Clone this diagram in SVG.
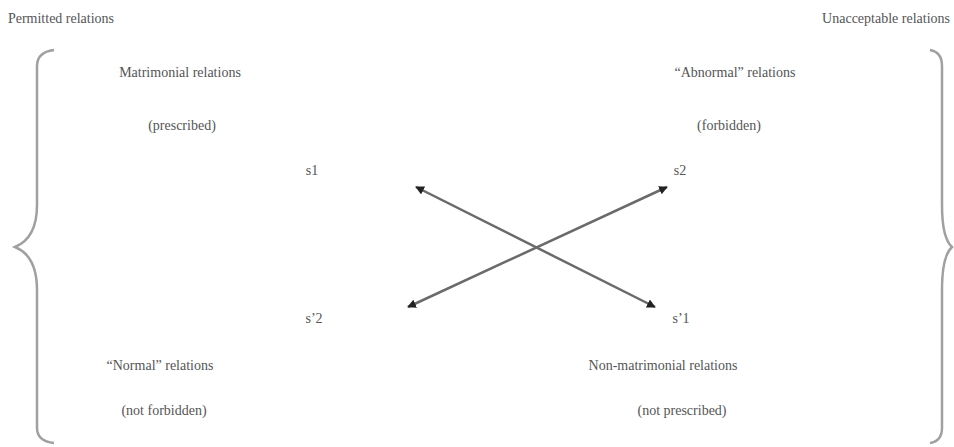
<svg xmlns="http://www.w3.org/2000/svg" width="954" height="447" viewBox="0 0 954 447">
  <style>
    .t { font-family: "Liberation Serif", "Times New Roman", serif; font-size: 14px; fill: #555555; text-anchor: middle; }
    .brace { fill: none; stroke: #a0a0a0; stroke-width: 2.5; }
    .conn { fill: none; stroke: #6a6a6a; stroke-width: 2.5; }
  </style>
  <defs>
    <marker id="ah" viewBox="0 0 10 10" refX="9" refY="5" markerWidth="3.5" markerHeight="3.5" orient="auto-start-reverse" markerUnits="strokeWidth">
      <path d="M0,0 L10,5 L0,10 z" fill="#222"/>
    </marker>
  </defs>
  <rect width="954" height="447" fill="#ffffff"/>

  <g id="brace-left">
    <path class="brace" d="M54 50 Q37 52 37 66 L37 205 Q37 238 15 247 Q37 256 37 290 L37 428 Q37 441 54 443"/>
    <text class="t" x="61" y="23">Permitted relations</text>
  </g>
  <g id="brace-right">
    <path class="brace" d="M930 50 Q942 52 942 66 L942 205 Q942 238 952 247 Q942 256 942 290 L942 428 Q942 441 930 443"/>
    <text class="t" x="950" y="23" style="text-anchor:end">Unacceptable relations</text>
  </g>

  <g id="node-s1">
    <text class="t" x="180" y="77">Matrimonial relations</text>
    <text class="t" x="182" y="130">(prescribed)</text>
    <text class="t" x="312" y="175">s1</text>
  </g>
  <g id="node-s2">
    <text class="t" x="735" y="77">“Abnormal” relations</text>
    <text class="t" x="729" y="130">(forbidden)</text>
    <text class="t" x="680" y="175">s2</text>
  </g>
  <g id="node-nots2">
    <text class="t" x="314" y="323">s’2</text>
    <text class="t" x="160" y="370">“Normal” relations</text>
    <text class="t" x="164" y="415">(not forbidden)</text>
  </g>
  <g id="node-nots1">
    <text class="t" x="681" y="323">s’1</text>
    <text class="t" x="663" y="370">Non-matrimonial relations</text>
    <text class="t" x="682" y="415">(not prescribed)</text>
  </g>

  <g id="connectors">
    <line class="conn" x1="416" y1="187" x2="655" y2="307" marker-start="url(#ah)" marker-end="url(#ah)"/>
    <line class="conn" x1="408" y1="307" x2="667" y2="187" marker-start="url(#ah)" marker-end="url(#ah)"/>
  </g>
</svg>
